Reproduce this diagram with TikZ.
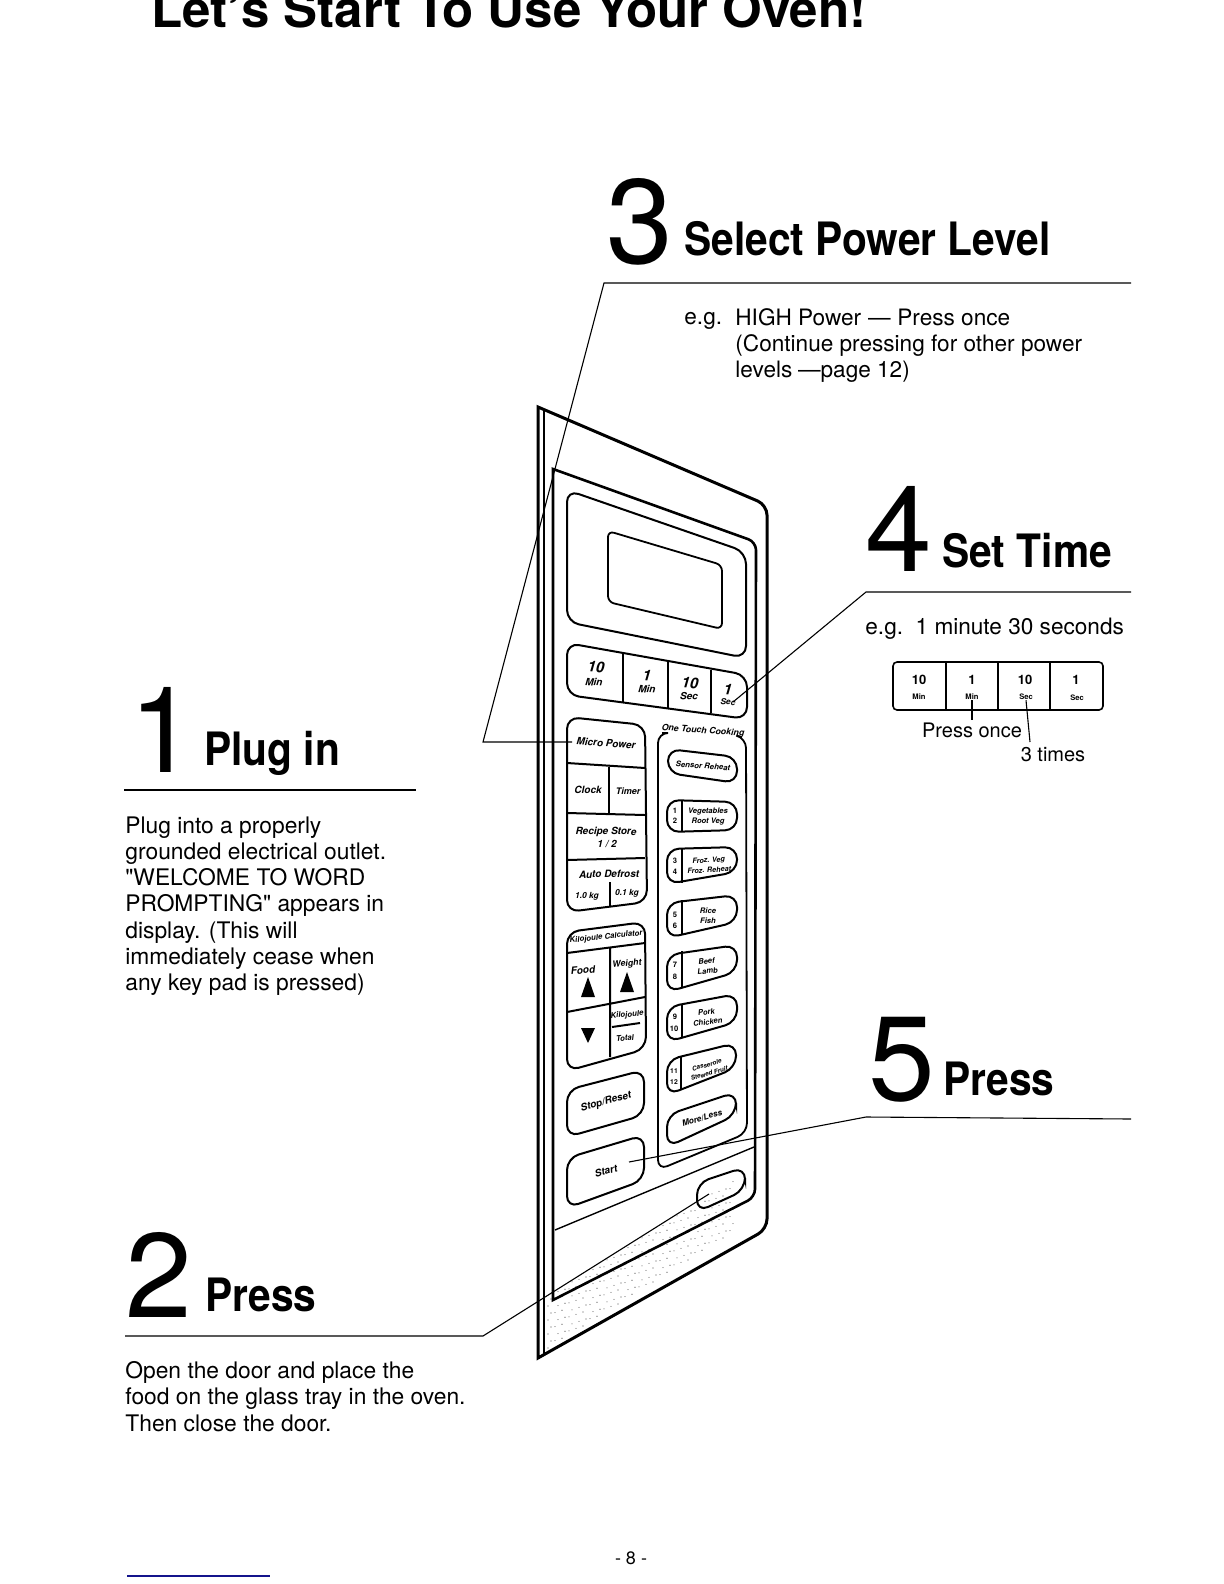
\documentclass[tikz,border=0pt]{standalone}
\usepackage{fontspec}
\setmainfont{TeX Gyre Heros}
\newfontfamily\quotefont{TeX Gyre Heros}
\newcommand{\qmark}{{\quotefont"}}
\usetikzlibrary{calc}
\definecolor{rulenavy}{RGB}{20,20,140}

\begin{document}
\begin{tikzpicture}[
    x=0.5pt, y=-0.5pt,
    title/.style={anchor=base west, inner sep=0pt, font=\fontsize{25.5}{28}\bfseries},
    numeral/.style={anchor=base west, inner sep=0pt, font=\fontsize{60}{62}\selectfont},
    heading/.style={anchor=base west, inner sep=0pt, xscale=0.885, font=\fontsize{23}{26}\bfseries},
    body/.style={anchor=north west, inner sep=0pt, align=left, font=\fontsize{11.4}{13.15}\selectfont},
    note/.style={inner sep=0pt, font=\fontsize{11.3}{13}\selectfont},
    keytext/.style={inner sep=0pt, align=center, font=\fontsize{5}{5.6}\bfseries\itshape},
    bigtext/.style={inner sep=0pt, font=\fontsize{7.5}{8}\bfseries\itshape},
    smalltext/.style={inner sep=0pt, font=\fontsize{3.8}{4}\bfseries},
    numtext/.style={inner sep=0pt, font=\fontsize{6.5}{7}\bfseries},
    panel/.style={draw=black, line width=1.5pt, rounded corners=5pt},
    door/.style={draw=black, line width=1.3pt, rounded corners=4pt},
    padkey/.style={draw=black, line width=1pt, rounded corners=6pt},
    thinline/.style={draw=black, line width=0.7pt},
    leader/.style={draw=black, line width=0.55pt},
    stipple/.style={fill=black!70}
  ]
    \useasboundingbox (0,0) rectangle (1224,1584);
    \clip (0,0) rectangle (1224,1584);

    \node[title] (title) at (151,28) {Let's Start To Use Your Oven!};

    % stipple on the lower part of the panel
    \foreach \i in {0,...,26} {
      \foreach \j in {0,...,7} {
        \fill[stipple] ({548+\i*7+mod(\j,2)*3},{1348-\i*4.4-\j*7-mod(\i*3,5)}) circle (0.55);
      }
    }

    % oven panel
    \draw[panel, rounded corners=0pt] (538,1358) -- (538,407)
      [rounded corners=5pt] -- (767,505) -- (767,1229)
      [rounded corners=0pt] -- cycle;
    \draw[panel, line width=1pt] (544,409) -- (544,1355);
    \draw[door, rounded corners=0pt] (553,1300) -- (553,469)
      [rounded corners=4pt] -- (756,542) -- (755,1197)
      [rounded corners=0pt] -- cycle;
    \draw[thinline] (555,1230) -- (754,1147);

    % display
    \draw[padkey] (567,490) -- (746,552) -- (746,658) -- (567,622) -- cycle;
    \draw[padkey, line width=0.9pt, rounded corners=3pt] (608,531) -- (722,565) -- (722,629) -- (608,602) -- cycle;

    % time keys
    \draw[padkey] (567,643) -- (747,675) -- (747,719) -- (567,695) -- cycle;
    \draw[thinline] (623,653) -- (623,703) (668,662) -- (668,708) (711,670) -- (711,713);
    \node[bigtext, rotate=-4] (tenmin) at (596,667) {10};
    \node[keytext, rotate=-4] (tenminb) at (594,682) {Min};
    \node[bigtext, rotate=-4] (onemin) at (647,675) {1};
    \node[keytext, rotate=-4] (oneminb) at (647,689) {Min};
    \node[bigtext, rotate=-4] (tensec) at (690,683) {10};
    \node[keytext, rotate=-4] (tensecb) at (689,696) {Sec};
    \node[bigtext, rotate=-4] (onesec) at (728,689) {1};
    \node[keytext, rotate=-4, font=\fontsize{4.2}{5}\bfseries\itshape] (onesecb) at (728,702) {Sec};

    % left column keys
    \draw[padkey] (567,717) -- (645,725) -- (647,902) -- (567,912) -- cycle;
    \draw[padkey, rounded corners=0pt] (567,763) -- (645,768) (567,813) -- (645,815) (567,860) -- (645,858);
    \draw[padkey, rounded corners=0pt] (609,767) -- (609,813) (610,882) -- (610,906);
    \node[keytext, rotate=-4] (micropower) at (606,743) {Micro Power};
    \node[keytext] (clock) at (588,790) {Clock};
    \node[keytext, font=\fontsize{4.5}{5}\bfseries\itshape] (timer) at (628,791) {Timer};
    \node[keytext, rotate=-1] (recipe) at (606,832) {Recipe Store};
    \node[keytext] (recipeb) at (607,844) {1 / 2};
    \node[keytext, rotate=1] (defrost) at (609,874) {Auto Defrost};
    \node[keytext, font=\fontsize{4.2}{5}\bfseries\itshape] (onekg) at (587,896) {1.0 kg};
    \node[keytext, font=\fontsize{4.2}{5}\bfseries\itshape] (tenthkg) at (627,893) {0.1 kg};

    % kilojoule keys
    \draw[padkey] (567,932) -- (645,922) -- (646,1049) -- (567,1071) -- cycle;
    \draw[padkey, rounded corners=0pt] (567,953) -- (645,943) (567,1012) -- (645,997) (610,948) -- (610,1057);
    \node[keytext, rotate=6, font=\fontsize{3.9}{5}\bfseries\itshape] (calculator) at (606,937) {Kilojoule Calculator};
    \node[keytext, rotate=5] (food) at (583,970) {Food};
    \node[keytext, rotate=5, font=\fontsize{4.4}{5}\bfseries\itshape] (weight) at (627,964) {Weight};
    \fill (581,997) -- (595,997) -- (588,977) -- cycle;
    \fill (620,992) -- (634,992) -- (627,972) -- cycle;
    \fill (581,1028) -- (595,1028) -- (588,1043) -- cycle;
    \node[keytext, rotate=5, font=\fontsize{3.9}{5}\bfseries\itshape] (kilojoule) at (627,1015) {Kilojoule};
    \draw[thinline, line width=1pt] (612,1027) -- (640,1023);
    \node[keytext, rotate=5, font=\fontsize{3.9}{5}\bfseries\itshape] (total) at (625,1038) {Total};

    % stop and start
    \draw[padkey] (567,1090) -- (644,1070) -- (644,1115) -- (567,1137) -- cycle;
    \node[keytext, rotate=15] (stop) at (606,1102) {Stop/Reset};
    \draw[padkey] (567,1158) -- (644,1135) -- (644,1180) -- (567,1208) -- cycle;
    \node[keytext, rotate=15] (start) at (606,1171) {Start};
    \draw[padkey] (697,1183) -- (745,1167) -- (745,1190) -- (697,1212) -- cycle;
    \coordinate (handle) at (709,1194);
    \coordinate (startkey) at (629,1162);

    % one touch group
    \draw[thinline, line width=0.9pt, rounded corners=5pt] (662,733) -- (658,733) -- (658,1170) -- (747,1133) -- (746,738) -- (742,737);
    \node[keytext, rotate=-4, font=\fontsize{4.4}{5}\bfseries\itshape] (onetouch) at (703,731) {One Touch Cooking};

    \draw[padkey] (668,749) -- (737,757) -- (737,783) -- (668,773) -- cycle;
    \node[keytext, rotate=-4, font=\fontsize{3.9}{5}\bfseries\itshape] (sensor) at (703,766) {Sensor Reheat};

    \draw[padkey] (667,800) -- (737,802) -- (737,830) -- (667,832) -- cycle;
    \draw[thinline] (682,800) -- (682,832);
    \node[smalltext] (n1) at (675,811) {1};
    \node[smalltext] (n2) at (675,821) {2};
    \node[keytext, font=\fontsize{3.8}{5}\bfseries\itshape] (vegetables) at (708,817) {Vegetables\\Root Veg};

    \draw[padkey] (667,849) -- (737,847) -- (737,872) -- (667,884) -- cycle;
    \draw[thinline] (682,849) -- (682,883);
    \node[smalltext] (n3) at (675,861) {3};
    \node[smalltext] (n4) at (675,872) {4};
    \node[keytext, rotate=3, font=\fontsize{3.6}{5}\bfseries\itshape] (frozen) at (709,865) {Froz. Veg\\Froz. Reheat};

    \draw[padkey] (667,903) -- (737,895) -- (737,922) -- (667,938) -- cycle;
    \draw[thinline] (682,900) -- (682,935);
    \node[smalltext] (n5) at (675,915) {5};
    \node[smalltext] (n6) at (675,926) {6};
    \node[keytext, font=\fontsize{3.8}{5}\bfseries\itshape] (rice) at (708,916) {Rice\\Fish};

    \draw[padkey] (667,955) -- (737,945) -- (737,972) -- (667,992) -- cycle;
    \draw[thinline] (682,951) -- (682,988);
    \node[smalltext] (n7) at (675,965) {7};
    \node[smalltext] (n8) at (675,977) {8};
    \node[keytext, rotate=6, font=\fontsize{3.8}{5}\bfseries\itshape] (beef) at (707,966) {Beef\\Lamb};

    \draw[padkey] (667,1007) -- (737,994) -- (737,1022) -- (667,1042) -- cycle;
    \draw[thinline] (682,1004) -- (682,1038);
    \node[smalltext] (n9) at (675,1017) {9};
    \node[smalltext] (n10) at (674,1029) {10};
    \node[keytext, rotate=8, font=\fontsize{3.8}{5}\bfseries\itshape] (pork) at (707,1017) {Pork\\Chicken};

    \draw[padkey] (667,1060) -- (736,1043) -- (736,1068) -- (667,1095) -- cycle;
    \draw[thinline] (681,1057) -- (681,1090);
    \node[smalltext, font=\fontsize{3.4}{4}\bfseries] (n11) at (674,1071) {11};
    \node[smalltext, font=\fontsize{3.4}{4}\bfseries] (n12) at (674,1082) {12};
    \node[keytext, rotate=16, font=\fontsize{3.2}{4.4}\bfseries\itshape] (casserole) at (708,1069) {Casserole\\Stewed Fruit};

    \draw[padkey] (667,1115) -- (736,1092) -- (736,1115) -- (667,1147) -- cycle;
    \node[keytext, rotate=17, font=\fontsize{4.2}{5}\bfseries\itshape] (moreless) at (702,1118) {More/Less};

    % step 1
    \node[numeral] (one) at (129,772) {1};
    \node[heading] (plug) at (204,765) {Plug in};
    \coordinate (plugleft) at (124,790);
    \coordinate (plugright) at (416,790);
    \draw[leader] (plugleft) -- (plugright);
    \node[body] (plugtext) at (125,816) {Plug into a properly\\grounded electrical outlet.\\\qmark WELCOME TO WORD\\PROMPTING\qmark\ appears in\\display. (This will\\immediately cease when\\any key pad is pressed)};

    % step 2
    \node[numeral] (two) at (125,1317) {2};
    \node[heading] (press) at (205,1311) {Press};
    \coordinate (pressleft) at (125,1336);
    \coordinate (pressbend) at (483,1336);
    \draw[leader] (pressleft) -- (pressbend) -- (handle);
    \node[body] (presstext) at (125,1361) {Open the door and place the\\food on the glass tray in the oven.\\Then close the door.};

    % step 3
    \node[numeral] (three) at (606,263) {3};
    \node[heading] (power) at (684,255) {Select Power Level};
    \coordinate (powerright) at (1131,283);
    \coordinate (powerbend) at (604,283);
    \coordinate (powerback) at (483,742);
    \coordinate (microkey) at (572,742);
    \draw[leader] (powerright) -- (powerbend) -- (powerback) -- (microkey);
    \node[note, anchor=base west] (eg) at (684,324) {e.g.};
    \node[body, font=\fontsize{11.3}{13.1}\selectfont] (powertext) at (735,308) {HIGH Power\hspace{0.3em}---\hspace{0.3em}Press once\\(Continue pressing for other power\\levels\hspace{0.25em}---page 12)};

    % step 4
    \node[numeral] (four) at (865,571) {4};
    \node[heading] (settime) at (942,567) {Set Time};
    \coordinate (timeright) at (1131,592);
    \coordinate (timebend) at (866,592);
    \coordinate (seckey) at (733,702);
    \draw[leader] (timeright) -- (timebend) -- (seckey);
    \node[note, anchor=base west] (timetext) at (865,634) {e.g.\ \ 1 minute 30 seconds};
    \draw[thinline, line width=0.8pt, rounded corners=2pt] (893,662) rectangle (1103,710);
    \draw[thinline] (946,662) -- (946,710) (998,662) -- (998,710) (1050,662) -- (1050,710);
    \node[numtext] (stripa) at (919,680) {10};
    \node[smalltext] (stripb) at (919,697) {Min};
    \node[numtext] (stripc) at (972,680) {1};
    \node[smalltext] (stripd) at (972,697) {Min};
    \node[numtext] (stripe) at (1025,680) {10};
    \node[smalltext] (stripf) at (1026,697) {Sec};
    \node[numtext] (stripg) at (1076,680) {1};
    \node[smalltext] (striph) at (1077,698) {Sec};
    \node[note, font=\fontsize{10}{12}\selectfont] (once) at (972,730) {Press once};
    \node[note, font=\fontsize{10}{12}\selectfont] (times) at (1053,755) {3 times};
    \coordinate (oncetick) at (972,720);
    \coordinate (timestick) at (1030,742);
    \draw[leader] (stripd.south) -- (oncetick);
    \draw[leader] (stripf.south) -- (timestick);

    % step 5
    \node[numeral] (five) at (868,1100) {5};
    \node[heading] (pressend) at (943,1095) {Press};
    \coordinate (startright) at (1131,1119);
    \coordinate (startbend) at (866,1117);
    \draw[leader] (startright) -- (startbend) -- (startkey);

    \node[note, font=\fontsize{9}{11}\selectfont] (page) at (631,1558) {- 8 -};
    \coordinate (footleft) at (127,1576);
    \coordinate (footright) at (270,1576);
    \draw[draw=rulenavy, line width=0.6pt] (footleft) -- (footright);
  \end{tikzpicture}
\end{document}
